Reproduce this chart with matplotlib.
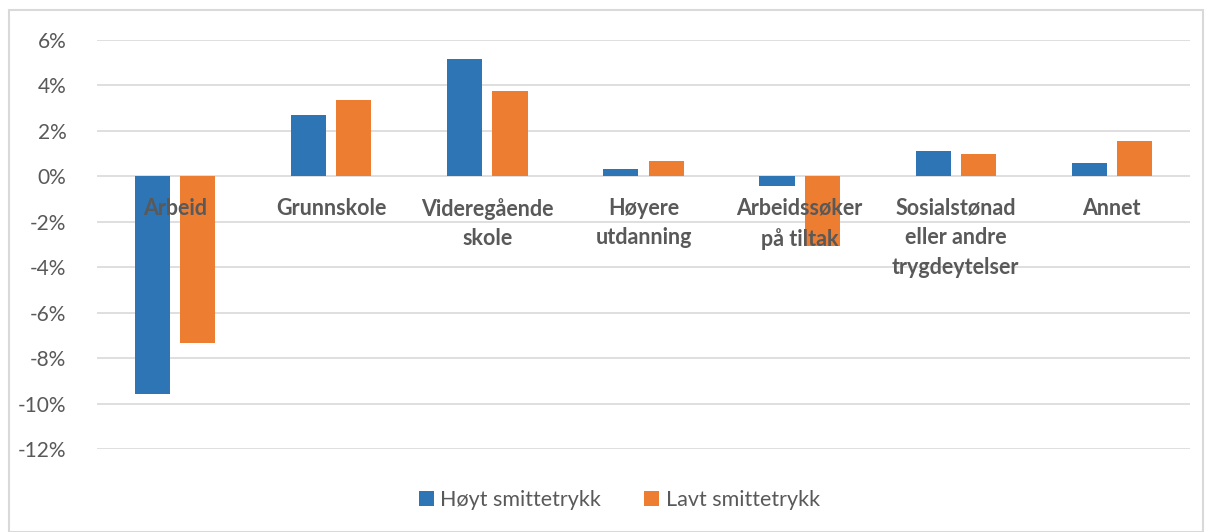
import matplotlib.pyplot as plt
import matplotlib.patches as mpatches
import numpy as np
from matplotlib.ticker import FuncFormatter

categories = ['Arbeid', 'Grunnskole', 'Videregående\nskole', 'Høyere\nutdanning',
              'Arbeidssøker\npå tiltak', 'Sosialstønad\neller andre\ntrygdeytelser', 'Annet']
hoyt = [-9.56, 2.69, 5.14, 0.33, -0.41, 1.10, 0.60]
lavt = [-7.34, 3.37, 3.73, 0.69, -3.05, 0.99, 1.53]
yticks = [-12, -10, -8, -6, -4, -2, 0, 2, 4, 6]

plt.rcParams['font.family'] = ['Lato', 'DejaVu Sans']

fig = plt.figure(figsize=(12.05, 5.32), dpi=100)
ax = fig.add_axes([0.0805, 0.156, 0.907, 0.769])

x = np.arange(len(categories))
w = 0.225
ax.bar(x - 0.145, hoyt, w, color='#2e75b6', label='Høyt smittetrykk', zorder=3)
ax.bar(x + 0.145, lavt, w, color='#ed7d31', label='Lavt smittetrykk', zorder=3)

ax.set_xlim(-0.5, len(categories) - 0.5)
ax.set_ylim(-12, 6)
ax.set_yticks(yticks)
ax.yaxis.set_major_formatter(FuncFormatter(lambda v, p: f'{v:.0f}%'))
ax.tick_params(axis='y', length=0, labelsize=15, labelcolor='#595959', pad=22)
ax.set_xticks([])
ax.grid(axis='y', color='#d9d9d9', linewidth=1.2, zorder=0)
for s in ax.spines.values():
    s.set_visible(False)

for i, c in enumerate(categories):
    ax.text(i, -0.95, c, ha='center', va='top', fontsize=15.5, fontweight='bold',
            color='#595959', linespacing=1.5, zorder=4)

ax.legend(loc='center', bbox_to_anchor=(0.478, -0.125), ncol=2, frameon=False,
          fontsize=15.5, labelcolor='#595959', handlelength=0.7, handleheight=0.7,
          handletextpad=0.3, columnspacing=2.0)

fig.patches.append(mpatches.Rectangle((9 / 1205, 0), 1 - 11 / 1205, 1 - 10 / 532,
                                      transform=fig.transFigure, fill=False,
                                      edgecolor='#d9d9d9', linewidth=1.5))

fig.savefig('out.png', dpi=100)
